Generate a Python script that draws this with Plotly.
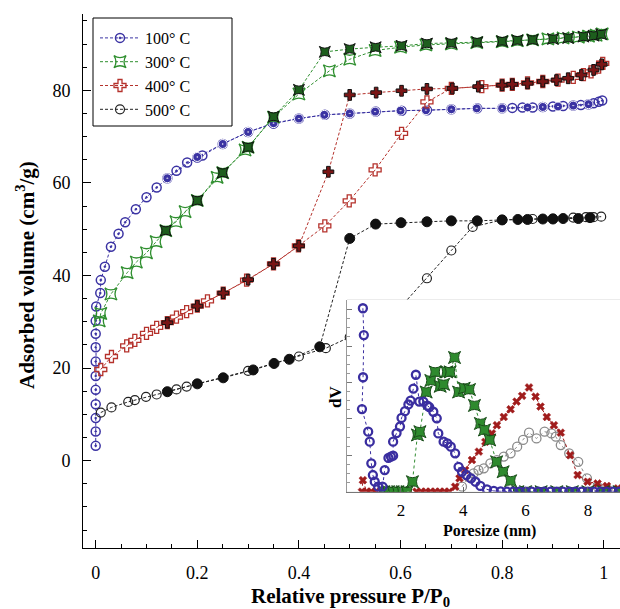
import plotly.graph_objects as go

# ---------------- main isotherm data ----------------
# 100 C adsorption
x100a = [0, 0, 0, 0, 0, 0, 0, 0, 0, 0, 0.001, 0.009, 0.01, 0.018, 0.03, 0.045, 0.058, 0.079, 0.1, 0.12,
         0.141, 0.159, 0.18, 0.2, 0.21, 0.25, 0.3, 0.35, 0.4, 0.451, 0.5, 0.551, 0.602, 0.652, 0.7, 0.751,
         0.8, 0.82, 0.84, 0.86, 0.88, 0.9, 0.92, 0.94, 0.955, 0.97, 0.98, 0.99, 0.997]
y100a = [3.2, 6.3, 9.2, 12.2, 15.3, 18.3, 21.4, 24.5, 27.4, 30.2, 33.3, 36.2, 39.0, 41.9, 46.2, 49.0, 51.5,
         54.3, 56.9, 59.0, 61.0, 62.6, 64.4, 65.5, 65.9, 68.4, 71.0, 72.8, 73.9, 74.7, 75.0, 75.4, 75.6,
         75.7, 75.9, 76.1, 76.1, 76.2, 76.3, 76.3, 76.4, 76.5, 76.6, 76.7, 76.8, 77.0, 77.2, 77.5, 77.8]
# 100 C desorption
x100d = [0.141, 0.2, 0.25, 0.3, 0.35, 0.4, 0.45, 0.5, 0.55, 0.6, 0.65, 0.7, 0.75, 0.8, 0.85, 0.88, 0.91, 0.94, 0.97]
y100d = [61.0, 65.6, 68.4, 71.0, 72.9, 73.9, 74.7, 75.0, 75.4, 75.6, 75.7, 75.9, 76.1, 76.1, 76.3, 76.4, 76.5, 76.7, 77.0]

# 300 C
x300a = [0.007, 0.01, 0.03, 0.062, 0.08, 0.1, 0.119, 0.138, 0.158, 0.176, 0.2, 0.239, 0.25, 0.294, 0.3, 0.35,
         0.4, 0.46, 0.5, 0.55, 0.6, 0.65, 0.7, 0.75, 0.8, 0.83, 0.86, 0.89, 0.92, 0.95, 0.97, 0.985, 0.997]
y300a = [30.2, 31.8, 36.0, 40.6, 42.9, 44.9, 47.3, 49.7, 51.6, 53.8, 56.2, 61.2, 62.2, 67.1, 67.7, 74.2,
         79.2, 84.2, 86.7, 88.6, 89.3, 89.8, 90.0, 90.3, 90.5, 90.7, 90.9, 91.1, 91.3, 91.5, 91.7, 91.9, 92.2]
x300d = [0.138, 0.2, 0.25, 0.3, 0.35, 0.4, 0.451, 0.5, 0.551, 0.602, 0.652, 0.7, 0.751, 0.8, 0.83, 0.86,
         0.9, 0.93, 0.96, 0.98, 0.995]
y300d = [49.7, 56.2, 62.2, 67.7, 74.3, 80.1, 88.3, 88.9, 89.3, 89.6, 90.1, 90.2, 90.4, 90.6, 90.8, 90.9,
         91.1, 91.3, 91.6, 91.8, 92.1]

# 400 C
x400a = [0.01, 0.031, 0.061, 0.077, 0.1, 0.12, 0.141, 0.159, 0.179, 0.2, 0.22, 0.251, 0.297, 0.35, 0.399,
         0.451, 0.499, 0.55, 0.602, 0.652, 0.7, 0.76, 0.8, 0.82, 0.85, 0.88, 0.91, 0.94, 0.96, 0.975, 0.99, 0.998]
y400a = [19.7, 22.5, 24.8, 26.0, 27.5, 28.8, 29.8, 31.0, 32.2, 33.4, 34.5, 36.2, 39.0, 42.5, 46.4,
         50.7, 56.1, 62.8, 70.7, 77.5, 80.4, 80.8, 81.1, 81.3, 81.6, 81.9, 82.2, 82.8, 83.4, 84.0, 85.0, 85.8]
x400d = [0.141, 0.2, 0.251, 0.3, 0.35, 0.4, 0.458, 0.5, 0.552, 0.602, 0.652, 0.702, 0.753, 0.8, 0.82, 0.85,
         0.88, 0.907, 0.93, 0.956, 0.98, 0.996]
y400d = [29.8, 33.4, 36.2, 39.1, 42.5, 46.4, 62.4, 79.0, 79.5, 79.9, 80.3, 80.4, 80.8, 81.1, 81.3, 81.5,
         81.9, 82.2, 82.6, 83.3, 84.4, 85.6]

# 500 C
x500a = [0.01, 0.031, 0.064, 0.077, 0.099, 0.12, 0.159, 0.179, 0.3, 0.4, 0.453, 0.5, 0.55, 0.602, 0.652,
         0.7, 0.742, 0.8, 0.86, 0.9, 0.94, 0.965, 0.98, 0.995]
y500a = [10.4, 11.5, 12.7, 13.1, 13.8, 14.3, 15.4, 16.0, 19.4, 22.5, 24.3, 26.7, 29.7, 33.4, 39.4,
         45.4, 50.5, 52.0, 52.2, 52.3, 52.5, 52.6, 52.6, 52.7]
x500d = [0.141, 0.2, 0.251, 0.31, 0.351, 0.381, 0.441, 0.5, 0.551, 0.601, 0.652, 0.7, 0.751, 0.8, 0.831,
         0.85, 0.88, 0.9, 0.92, 0.95, 0.973]
y500d = [14.9, 16.6, 17.9, 19.6, 21.0, 21.9, 24.6, 48.0, 51.1, 51.4, 51.6, 51.8, 51.8, 52.0, 52.1,
         52.1, 52.2, 52.2, 52.3, 52.3, 52.5]

# ---------------- inset pore size distribution (dV, arbitrary units) ----------------
p100 = [0.78, 0.81, 0.785, 0.75, 0.95, 1.0, 1.05, 1.1, 1.16, 1.27, 1.41, 1.48, 1.6, 1.68, 1.75, 1.75, 1.86,
        1.97, 2.02, 2.13, 2.24, 2.31, 2.4, 2.48, 2.59, 2.72, 2.85, 2.91, 3.04, 3.15, 3.2, 3.37, 3.49, 3.6,
        3.74, 3.85, 3.96, 4.1, 4.25, 4.39, 4.55, 4.76, 4.98, 5.2, 5.4, 5.6, 5.8, 6.0, 6.2, 6.4, 6.6, 6.8,
        7.0, 7.2, 7.4, 7.6, 7.8, 8.0, 8.2, 8.4, 8.6, 8.8, 9.0]
d100 = [95.7, 81.7, 59.7, 43.1, 31.3, 26.1, 14.8, 8.7, 5.2, 2.6, 2.6, 11.3, 17.6, 18.3, 18.8, 26.1, 30.6,
        34.0, 38.5, 42.0, 45.5, 47.5, 53.8, 61.0, 47.0, 47.0, 44.9, 44.1, 41.7, 38.3, 30.4, 26.1, 25.2, 23.5,
        20.0, 13.0, 10.4, 8.7, 6.9, 5.2, 3.0, 1.2, 0.4, 0.2, 0, 0, 0, 0, 0, 0, 0, 0,
        0, 0, 0, 0, 0, 0, 0, 0, 0, 0, 0]
p300 = [1.45, 1.6, 1.75, 1.9, 2.05, 2.2, 2.37, 2.53, 2.61, 2.81, 2.96, 3.1, 3.26, 3.37, 3.47, 3.58, 3.72,
        3.85, 4.03, 4.2, 4.36, 4.55, 4.68, 4.85, 5.07, 5.28, 5.52, 5.75, 6.0, 6.5, 7.0, 7.5, 8.0, 8.5, 9.0]
d300 = [0, 0, 0, 0, 0, 0, 5.2, 29.6, 31.3, 52.0, 58.0, 62.5, 55.0, 56.0, 62.5, 62.5, 70.0,
        52.0, 54.0, 53.3, 45.0, 35.6, 32.2, 27.0, 15.6, 10.4, 5.7, 0, 0, 0, 0, 0, 0, 0, 0]
p400 = [0.75, 0.78, 0.9, 1.05, 1.2, 2.5, 2.65, 2.8, 2.95, 3.1, 3.25, 3.4, 3.55, 3.74, 3.88, 4.06, 4.28,
        4.5, 4.71, 4.92, 5.08, 5.3, 5.52, 5.71, 5.89, 6.11, 6.32, 6.48, 6.68, 6.91, 7.13, 7.43, 7.67, 7.99,
        8.31, 8.61, 8.96]
d400 = [0, 6.0, 0, 0, 0, 0, 0, 0, 0, 0, 0, 0, 0, 2.6, 7.0, 11.3, 16.5,
        20.9, 26.0, 30.4, 34.7, 39.0, 43.0, 47.0, 50.0, 54.4, 49.6, 44.4, 39.0, 34.7, 30.8, 19.0, 8.7, 5.2,
        4.3, 3.0, 1.7]
p500 = [3.96, 4.17, 4.33, 4.49, 4.66, 4.87, 5.08, 5.3, 5.52, 5.73, 5.92, 6.11, 6.35, 6.61, 6.83, 6.97,
        7.13, 7.4, 7.69, 7.97, 8.31, 8.63]
d500 = [2.6, 7.8, 9.6, 11.3, 12.2, 14.8, 16.5, 18.3, 20.0, 23.5, 27.0, 30.8, 27.8, 31.3, 30.4, 28.7,
        24.3, 20.0, 15.6, 7.0, 2.6, 1.2]

labels = ["100° C", "300° C", "400° C", "500° C"]

SERIF = "'Liberation Serif', 'Times New Roman', serif"
BLUE = "#3b33a3"
GREEN = "#2f8f2f"
DGREEN = "#1d5e1d"
RED = "#b5322c"
DRED = "#7a1515"
dash = "3px,2px"

fig = go.Figure()

def add(x, y, name, color, symbol, size, mcolor=None, lcolor=None, lw=1.2, show=False, xa="x", ya="y", ldash=dash):
    fig.add_trace(go.Scatter(
        x=x, y=y, name=name, mode="lines+markers", showlegend=show, xaxis=xa, yaxis=ya,
        line=dict(color=color, width=1, dash=ldash),
        marker=dict(symbol=symbol, size=size, color=mcolor or color,
                    line=dict(color=lcolor or color, width=lw))))

# main plot: adsorption (open) and desorption (filled)
add(x100a, y100a, labels[0], BLUE, "circle-open-dot", 9, lw=1.5, show=True)
add(x100d, y100d, labels[0], BLUE, "circle-dot", 9, mcolor=BLUE, lcolor="#ffffff", lw=1)
add(x300a, y300a, labels[1], GREEN, "star-square-open", 11, lw=1.3, show=True)
add(x300d, y300d, labels[1], GREEN, "star-square", 10, mcolor=DGREEN, lcolor="#111111", lw=1)
add(x400a, y400a, labels[2], RED, "cross-open", 10, lw=1.3, show=True)
add(x400d, y400d, labels[2], RED, "cross", 9, mcolor=DRED, lcolor="#111111", lw=1)
add(x500a, y500a, labels[3], "#222222", "circle-open", 9, lw=1.2, show=True)
add(x500d, y500d, labels[3], "#222222", "circle", 10, mcolor="#111111", lcolor="#111111", lw=1)

# inset
add(p500, d500, labels[3], "#8a8a8a", "circle-open", 9, lw=1.3, xa="x2", ya="y2", ldash="dot")
add(p400, d400, labels[2], "#a01c1c", "x", 7, mcolor="#a01c1c", lcolor="#a01c1c", lw=0.5, xa="x2", ya="y2", ldash="dot")
add(p300, d300, labels[1], "#2e8a2e", "star-square", 11, mcolor="#2e8a2e", lcolor="#1a4d1a", lw=1, xa="x2", ya="y2", ldash="dot")
add(p100, d100, labels[0], "#3a2ea0", "circle-open", 8, lw=2.3, xa="x2", ya="y2", ldash="dot")

L, R, T, B = 83, 0, 14, 61
W, H = 620, 609
pw, ph = W - L - R, H - T - B

def px(xp):
    return (xp - L) / pw

def py(yp):
    return (H - B - yp) / ph

inset = dict(x0=px(347), x1=1.0, y0=py(491.7), y1=py(300))

axfont = dict(family=SERIF, size=18, color="black")
fig.update_layout(
    width=W, height=H, margin=dict(l=L, r=R, t=T, b=B),
    paper_bgcolor="white", plot_bgcolor="white",
    font=dict(family=SERIF, size=18, color="black"),
    xaxis=dict(range=[-0.025, 1.032], tickvals=[0, 0.2, 0.4, 0.6, 0.8, 1.0], ticktext=["0", "0.2", "0.4", "0.6", "0.8", "1"],
               ticks="inside", ticklen=8, tickcolor="black", showline=True, linecolor="black", linewidth=1,
               minor=dict(dtick=0.05, ticks="inside", ticklen=4, tickcolor="black"),
               showgrid=False, zeroline=False, tickfont=axfont, ticklabelstandoff=8),
    yaxis=dict(range=[-18.86, 96.48], tickvals=[0, 20, 40, 60, 80], ticks="inside", ticklen=8, tickcolor="black",
               showline=True, linecolor="black", linewidth=1,
               minor=dict(dtick=5, ticks="inside", ticklen=4, tickcolor="black"),
               showgrid=False, zeroline=False, tickfont=axfont, ticklabelstandoff=8),
    xaxis2=dict(domain=[inset["x0"], inset["x1"]], anchor="y2", range=[0.27, 9.03], tickvals=[2, 4, 6, 8],
                ticks="inside", ticklen=5, tickcolor="#666", showline=True, linecolor="#777", linewidth=1,
                showgrid=False, zeroline=False, tickfont=dict(family=SERIF, size=17, color="black"),
                ticklabelstandoff=3),
    yaxis2=dict(domain=[inset["y0"], inset["y1"]], anchor="x2", range=[0, 100], showticklabels=False,
                tick0=0, dtick=19, ticks="inside", ticklen=5, tickcolor="#777",
                minor=dict(dtick=4.75, ticks="inside", ticklen=3, tickcolor="#999"),
                showline=True, linecolor="#999", linewidth=1, showgrid=False, zeroline=False),
    legend=dict(x=px(95), y=py(21), xanchor="left", yanchor="top", bgcolor="rgba(0,0,0,0)",
                borderwidth=0, font=dict(family=SERIF, size=16, color="black"),
                tracegroupgap=0, itemwidth=40),
    shapes=[
        dict(type="rect", xref="paper", yref="paper", layer="below",
             x0=inset["x0"], x1=inset["x1"], y0=inset["y0"], y1=inset["y1"],
             fillcolor="#f0f0f0", line=dict(color="#d8d8d8", width=1)),
        # legend frame
        dict(type="rect", xref="paper", yref="paper", layer="below",
             x0=px(93), x1=px(232), y0=py(126), y1=py(18),
             fillcolor="white", line=dict(color="black", width=1)),
    ],
    annotations=[
        dict(text="<b>Relative pressure P/P<sub>0</sub></b>", xref="paper", yref="paper",
             x=px(350), y=py(597), showarrow=False, xanchor="center", yanchor="middle",
             font=dict(family=SERIF, size=21, color="black")),
        dict(text="<b>Adsorbed volume (cm<sup>3</sup>/g)</b>", xref="paper", yref="paper",
             x=px(25), y=py(275), showarrow=False, xanchor="center", yanchor="middle", textangle=-90,
             font=dict(family=SERIF, size=21, color="black")),
        dict(text="<b>Poresize (nm)</b>", xref="paper", yref="paper",
             x=px(489), y=py(531), showarrow=False, xanchor="center", yanchor="middle",
             font=dict(family=SERIF, size=16, color="black")),
        dict(text="<b>dV</b>", xref="paper", yref="paper",
             x=px(335), y=py(397), showarrow=False, xanchor="center", yanchor="middle", textangle=-90,
             font=dict(family=SERIF, size=17, color="black")),
    ],
)

fig.write_html("out.html")
